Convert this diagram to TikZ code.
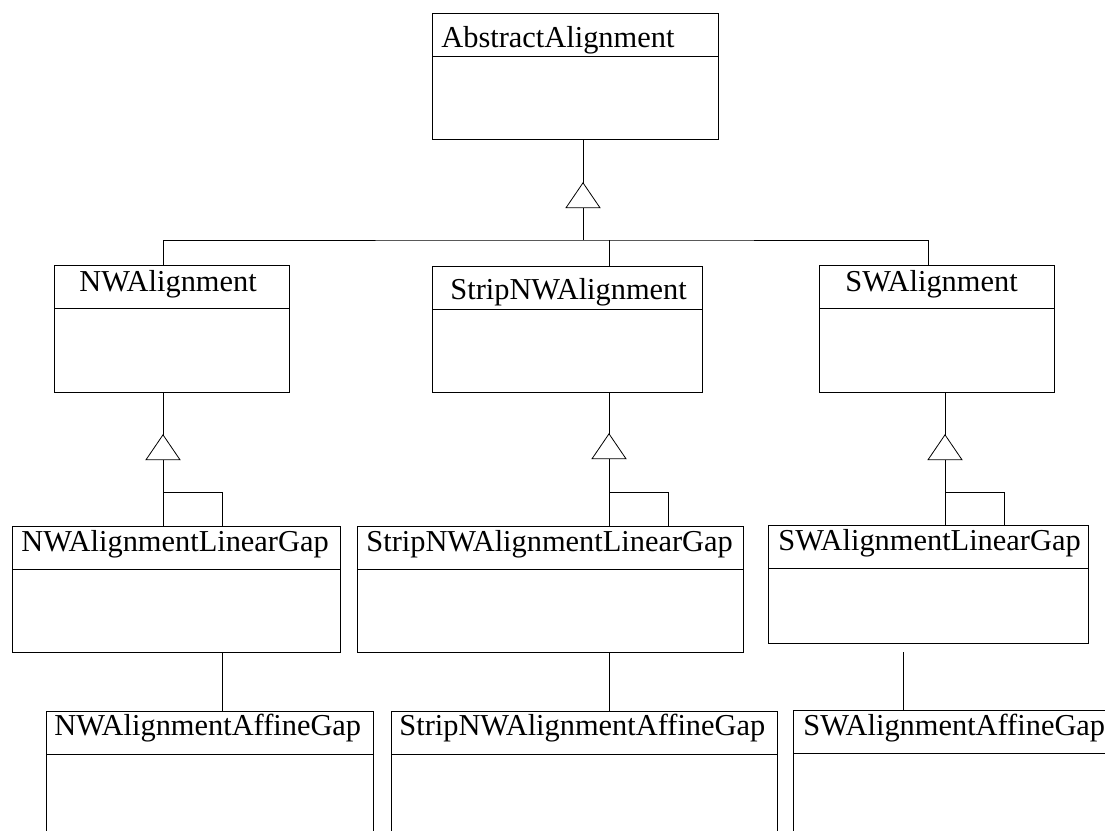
\documentclass[tikz,border=0pt]{standalone}
\usepackage{fontspec}
\setmainfont{Liberation Serif}
\tikzset{
  classbox/.style={draw, rectangle, inner sep=0pt, anchor=north west},
  classname/.style={anchor=base west, inner sep=0pt, font=\fontsize{30.4}{36}\selectfont},
  gentri/.pic={\draw[fill=white] (0,0) -- (-17,25) -- (17,25) -- cycle;}
}
\begin{document}
\begin{tikzpicture}[x=1pt,y=-1pt,line width=0.8pt]
  \useasboundingbox (0,0) rectangle (1105,830);
  \clip (0,0) rectangle (1105,830);
  % class boxes
  \node[classbox, minimum width=286pt, minimum height=126pt] (abstract) at (432,13) {};
  \node[classbox, minimum width=235pt, minimum height=127pt] (nw) at (54,265) {};
  \node[classbox, minimum width=270pt, minimum height=126pt] (strip) at (432,266) {};
  \node[classbox, minimum width=235pt, minimum height=127pt] (sw) at (819,265) {};
  \node[classbox, minimum width=328pt, minimum height=126pt] (nwlin) at (12,526) {};
  \node[classbox, minimum width=386pt, minimum height=126pt] (striplin) at (357,526) {};
  \node[classbox, minimum width=320pt, minimum height=118pt] (swlin) at (768,525) {};
  \node[classbox, minimum width=327pt, minimum height=126pt] (nwaff) at (46,711) {};
  \node[classbox, minimum width=386pt, minimum height=126pt] (stripaff) at (391,711) {};
  \node[classbox, minimum width=320pt, minimum height=126pt] (swaff) at (793,710) {};
  % name compartments
  \foreach \c in {abstract,nw,strip,sw,nwlin,striplin,swlin,nwaff,stripaff,swaff}
    \draw ([yshift=-43pt]\c.north west) -- ([yshift=-43pt]\c.north east);
  % class names
  \node[classname] (abstractname) at (441,47) {AbstractAlignment};
  \node[classname] (nwname) at (79,291) {NWAlignment};
  \node[classname] (stripname) at (450,299) {StripNWAlignment};
  \node[classname] (swname) at (845,291) {SWAlignment};
  \node[classname] (nwlinname) at (21,551) {NWAlignmentLinearGap};
  \node[classname] (striplinname) at (366,551) {StripNWAlignmentLinearGap};
  \node[classname] (swlinname) at (778,550) {SWAlignmentLinearGap};
  \node[classname] (nwaffname) at (54,735) {NWAlignmentAffineGap};
  \node[classname] (stripaffname) at (399,735) {StripNWAlignmentAffineGap};
  \node[classname] (swaffname) at (803,735) {SWAlignmentAffineGap};
  % x positions of the connectors
  \coordinate (bus) at (583,240);
  \coordinate (hooky) at (0,492);
  \coordinate (nwx) at (163,0);
  \coordinate (stripx) at (609,0);
  \coordinate (swdrop) at (928,0);
  \coordinate (swx) at (945,0);
  \coordinate (nwhook) at (222,0);
  \coordinate (striphook) at (668,0);
  \coordinate (swhook) at (1004,0);
  \coordinate (swgap) at (903,652);
  % top level generalisation
  \draw (abstract.south -| bus) -- (bus);
  \draw (nw.north -| nwx) |- (bus) -| (sw.north -| swdrop);
  \draw (strip.north -| stripx) -- (stripx |- bus);
  \path (abstract.south -| bus) ++(0,43) pic {gentri};
  % second level generalisation
  \draw (nw.south -| nwx) -- (nwlin.north -| nwx);
  \draw (nwlin.north -| nwhook) |- (nwx |- hooky);
  \path (nw.south -| nwx) ++(0,42) pic {gentri};
  \draw (strip.south -| stripx) -- (striplin.north -| stripx);
  \draw (striplin.north -| striphook) |- (stripx |- hooky);
  \path (strip.south -| stripx) ++(0,41) pic {gentri};
  \draw (sw.south -| swx) -- (swlin.north -| swx);
  \draw (swlin.north -| swhook) |- (swx |- hooky);
  \path (sw.south -| swx) ++(0,42) pic {gentri};
  % affine gap links
  \draw (nwlin.south -| nwhook) -- (nwaff.north -| nwhook);
  \draw (striplin.south -| stripx) -- (stripaff.north -| stripx);
  \draw (swgap) -- (swaff.north -| swgap);
\end{tikzpicture}
\end{document}
